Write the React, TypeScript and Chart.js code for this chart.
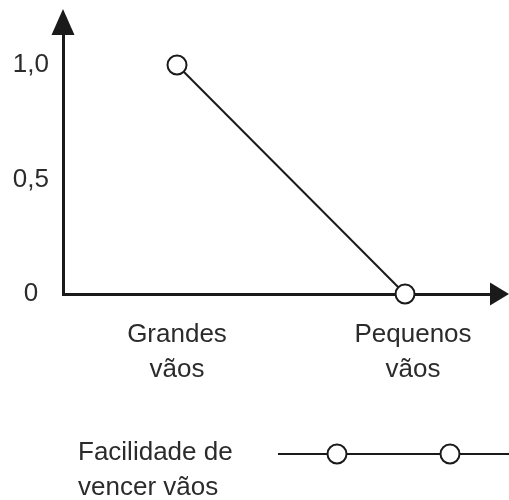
import React, { useEffect, useRef } from "react";
import { Chart, registerables } from "chart.js";

Chart.register(...registerables);

// ---- data ----
const categories: string[][] = [["Grandes", "vãos"], ["Pequenos", "vãos"]];
const categoryPositions = [1, 2];
const values = [1.0, 0];
const yTickValues = [0, 0.5, 1];
const yTickLabels = ["0", "0,5", "1,0"];
const seriesLabel = ["Facilidade de", "vencer vãos"];

// ---- style ----
const FONT = "'Liberation Sans', Arial, Helvetica, sans-serif";
const INK = "#1a1a1a";
const TEXT = "#2b2b2b";
const FONT_SIZE = 26;
const LABEL_NUDGE = [0, 0.035]; // small horizontal nudge of category labels

const arrowPlugin = {
  id: "axisArrows",
  afterDraw(chart: any) {
    const { ctx, chartArea } = chart;
    const { left, right, top, bottom } = chartArea;
    ctx.save();
    ctx.fillStyle = INK;
    ctx.beginPath();
    ctx.moveTo(left - 11.5, top + 1);
    ctx.lineTo(left + 11.5, top + 1);
    ctx.lineTo(left, top - 25);
    ctx.closePath();
    ctx.fill();
    ctx.beginPath();
    ctx.moveTo(right - 1, bottom - 11.5);
    ctx.lineTo(right - 1, bottom + 11.5);
    ctx.lineTo(right + 18, bottom);
    ctx.closePath();
    ctx.fill();
    ctx.restore();
  },
};

const legendPlugin = {
  id: "customLegend",
  afterDraw(chart: any) {
    const { ctx } = chart;
    const ds = chart.data.datasets[0];
    const textX = 78;
    const firstY = 453;
    const lineH = 35;
    ctx.save();
    ctx.fillStyle = TEXT;
    ctx.font = `${FONT_SIZE}px ${FONT}`;
    ctx.textAlign = "left";
    ctx.textBaseline = "middle";
    seriesLabel.forEach((t, i) => ctx.fillText(t, textX, firstY + i * lineH));
    const ly = 454;
    ctx.strokeStyle = ds.borderColor;
    ctx.lineWidth = ds.borderWidth;
    ctx.beginPath();
    ctx.moveTo(278, ly);
    ctx.lineTo(509, ly);
    ctx.stroke();
    [337, 450].forEach((cx) => {
      ctx.beginPath();
      ctx.arc(cx, ly, ds.pointRadius, 0, Math.PI * 2);
      ctx.fillStyle = ds.pointBackgroundColor;
      ctx.fill();
      ctx.lineWidth = ds.pointBorderWidth;
      ctx.strokeStyle = ds.pointBorderColor;
      ctx.stroke();
    });
    ctx.restore();
  },
};

export default function App() {
  const ref = useRef<HTMLCanvasElement | null>(null);

  useEffect(() => {
    document.body.style.margin = "0";
    const canvas = ref.current;
    if (!canvas) return;
    const chart = new Chart(canvas, {
      type: "line",
      data: {
        datasets: [
          {
            label: seriesLabel.join(" "),
            data: categoryPositions.map((x, i) => ({ x, y: values[i] })),
            borderColor: INK,
            borderWidth: 2,
            pointRadius: 9.5,
            pointBorderWidth: 2,
            pointBorderColor: INK,
            pointBackgroundColor: "#ffffff",
            pointHoverRadius: 9.5,
            clip: false as any,
            tension: 0,
          },
        ],
      },
      options: {
        responsive: false,
        animation: false,
        devicePixelRatio: 1,
        layout: { padding: { top: 34, right: 18, left: 0, bottom: 0 } },
        plugins: {
          legend: { display: false },
          tooltip: { enabled: false },
          title: { display: false },
        },
        scales: {
          x: {
            type: "linear",
            min: 0.5,
            max: 2.377,
            grid: { display: false, drawTicks: false },
            border: { display: true, width: 3, color: INK },
            afterBuildTicks: (s: any) => {
              s.ticks = categoryPositions.map((v, i) => ({ value: v + LABEL_NUDGE[i] }));
            },
            afterFit: (s: any) => {
              s.height = 206;
            },
            ticks: {
              autoSkip: false,
              maxRotation: 0,
              padding: 24,
              color: TEXT,
              font: { family: FONT, size: FONT_SIZE, lineHeight: 1.32 },
              callback: (_v: any, i: number) => categories[i],
            },
          },
          y: {
            type: "linear",
            min: 0,
            max: 1.1354,
            grid: { display: false, drawTicks: false },
            border: { display: true, width: 3, color: INK },
            afterBuildTicks: (s: any) => {
              s.ticks = yTickValues.map((v) => ({ value: v }));
            },
            afterFit: (s: any) => {
              s.width = 63;
            },
            ticks: {
              autoSkip: false,
              padding: 14,
              crossAlign: "center",
              color: TEXT,
              font: { family: FONT, size: FONT_SIZE },
              callback: (_v: any, i: number) => yTickLabels[i],
            },
          },
        },
      },
      plugins: [arrowPlugin, legendPlugin],
    });
    return () => chart.destroy();
  }, []);

  return <canvas ref={ref} width={509} height={500} style={{ display: "block" }} />;
}
